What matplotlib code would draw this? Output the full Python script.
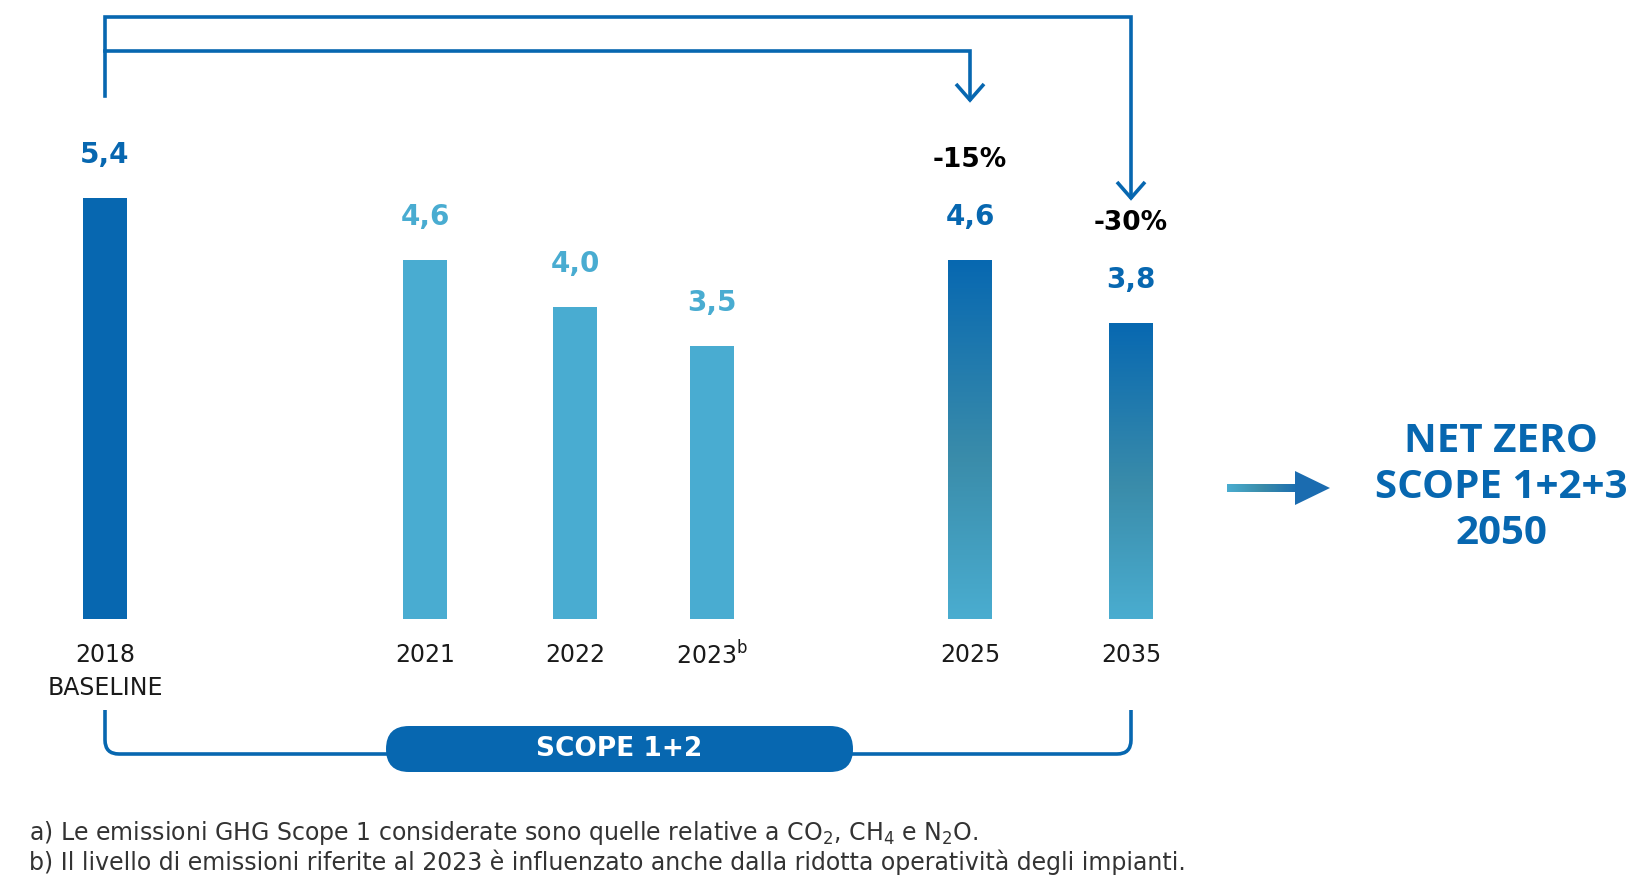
import numpy as np
import matplotlib
matplotlib.use('Agg')
import matplotlib.pyplot as plt
from matplotlib.colors import LinearSegmentedColormap
from matplotlib.patches import FancyBboxPatch, Polygon, PathPatch
from matplotlib.path import Path

plt.rcParams['font.family'] = ['DejaVu Sans']
plt.rcParams['mathtext.default'] = 'regular'

# data
years = ['2018', '2021', '2022', '2023$^{b}$', '2025', '2035']
values = [5.4, 4.6, 4.0, 3.5, 4.6, 3.8]
value_labels = ['5,4', '4,6', '4,0', '3,5', '4,6', '3,8']
kinds = ['baseline', 'actual', 'actual', 'actual', 'target', 'target']
reductions = {4: '-15%', 5: '-30%'}

# layout (pixels on a 1638x882 canvas)
W, H = 1638, 882
xpos = [105, 425, 575, 712, 970, 1131]
bar_w = 44
base_px = 619
px_per_unit = 78

DARK = '#0767b0'
LIGHT = '#49acd1'
grad = LinearSegmentedColormap.from_list('g', [(0, '#4aadd0'), (0.45, '#3a8caa'), (1, '#0768b1')])

fig = plt.figure(figsize=(W / 100, H / 100), dpi=100)

ymax = 6
ax = fig.add_axes([0, (H - base_px) / H, 1, ymax * px_per_unit / H])
ax.set_xlim(0, W)
ax.set_ylim(0, ymax)
ax.axis('off')

for i, (x, v, k) in enumerate(zip(xpos, values, kinds)):
    if k == 'target':
        b = ax.bar(x, v, width=bar_w, color='none', edgecolor='none')[0]
        img = ax.imshow(np.linspace(0, 1, 256).reshape(-1, 1), cmap=grad, origin='lower',
                        extent=(x - bar_w / 2, x + bar_w / 2, 0, v), aspect='auto')
        img.set_clip_path(b)
        col = DARK
    else:
        col = DARK if k == 'baseline' else LIGHT
        ax.bar(x, v, width=bar_w, color=col)
    ax.annotate(value_labels[i], (x, v), xytext=(0, 31), textcoords='offset points',
                ha='center', va='center', fontsize=20, fontweight='bold', color=col)
    if i in reductions:
        ax.annotate(reductions[i], (x, v), xytext=(0, 72), textcoords='offset points',
                    ha='center', va='center', fontsize=19, fontweight='bold', color='black')
ax.set_xlim(0, W)
ax.set_ylim(0, ymax)

# overlay in pixel coordinates
ov = fig.add_axes([0, 0, 1, 1])
ov.set_xlim(0, W)
ov.set_ylim(H, 0)
ov.axis('off')
ov.patch.set_visible(False)

lw = 2.6
x0, x25, x35 = xpos[0], xpos[4], xpos[5]
ov.plot([x0, x0, x35, x35], [96, 17, 17, 197], color=DARK, lw=lw, solid_joinstyle='miter')
ov.plot([x0, x25, x25], [51, 51, 99], color=DARK, lw=lw, solid_joinstyle='miter')
for tx, ty in [(x25, 100), (x35, 198)]:
    ov.plot([tx - 14, tx, tx + 14], [ty - 16, ty, ty - 16], color=DARK, lw=lw,
            solid_joinstyle='miter', solid_capstyle='butt')

# year labels
for x, y in zip(xpos, years):
    ov.text(x, 655, y, ha='center', va='center', fontsize=17, color='#1a1a1a')
ov.text(x0, 688, 'BASELINE', ha='center', va='center', fontsize=17, color='#1a1a1a')

# bottom bracket
r = 14
yb = 754
verts = [(x0, 710), (x0, yb - r), (x0, yb), (x0 + r, yb), (x35 - r, yb), (x35, yb), (x35, yb - r), (x35, 710)]
codes = [Path.MOVETO, Path.LINETO, Path.CURVE3, Path.CURVE3, Path.LINETO, Path.CURVE3, Path.CURVE3, Path.LINETO]
ov.add_patch(PathPatch(Path(verts, codes), fill=False, edgecolor=DARK, lw=lw))
ov.add_patch(FancyBboxPatch((386, 726), 467, 46, boxstyle='round,pad=0,rounding_size=23',
                            facecolor=DARK, edgecolor='none', zorder=3))
ov.text(619, 749, 'SCOPE 1+2', ha='center', va='center', fontsize=19, fontweight='bold',
        color='white', zorder=4)

# arrow to net zero
shaft = LinearSegmentedColormap.from_list('s', ['#4aadd0', '#3a8caa', '#1c6eb0'])
ov.imshow(np.linspace(0, 1, 256).reshape(1, -1), cmap=shaft, extent=(1227, 1297, 492, 484),
          aspect='auto')
ov.add_patch(Polygon([(1295, 471), (1330, 488), (1295, 505)], closed=True, facecolor='#1b6cb0',
                     edgecolor='none'))
ov.set_xlim(0, W)
ov.set_ylim(H, 0)

for y, t in zip([441, 487, 533], ['NET ZERO', 'SCOPE 1+2+3', '2050']):
    ov.text(1501, y, t, ha='center', va='center', fontsize=29, fontweight='bold', color=DARK,
            family=['Open Sans', 'DejaVu Sans'])

# footnotes
ov.text(29, 833, 'a) Le emissioni GHG Scope 1 considerate sono quelle relative a CO$_{2}$, CH$_{4}$ e N$_{2}$O.',
        ha='left', va='center', fontsize=17, color='#333333')
ov.text(29, 862, 'b) Il livello di emissioni riferite al 2023 è influenzato anche dalla ridotta operatività degli impianti.',
        ha='left', va='center', fontsize=17, color='#333333')

fig.savefig('out.png', dpi=100)
